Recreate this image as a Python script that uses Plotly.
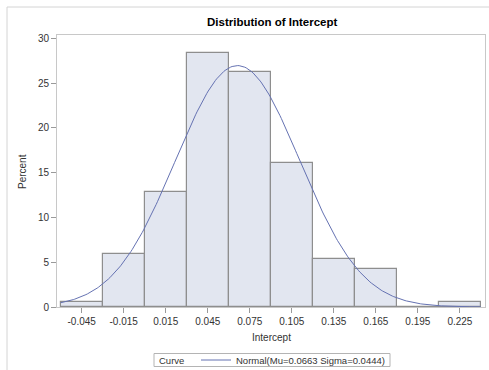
import numpy as np
import plotly.graph_objects as go

# Data
bin_centers = [-0.045, -0.015, 0.015, 0.045, 0.075, 0.105, 0.135, 0.165, 0.195, 0.225]
percent = [0.53, 5.88, 12.83, 28.34, 26.20, 16.04, 5.35, 4.28, 0.0, 0.53]
bin_width = 0.03
MU = 0.0663
SIGMA = 0.0444
x_ticks = [-0.045, -0.015, 0.015, 0.045, 0.075, 0.105, 0.135, 0.165, 0.195, 0.225]
x_tick_labels = ["-0.045", "-0.015", "0.015", "0.045", "0.075", "0.105", "0.135", "0.165", "0.195", "0.225"]
y_ticks = [0, 5, 10, 15, 20, 25, 30]

# Fitted normal curve scaled to percent per bin
xc = np.linspace(-0.06, 0.24, 300)
yc = 100 * bin_width * np.exp(-0.5 * ((xc - MU) / SIGMA) ** 2) / (SIGMA * np.sqrt(2 * np.pi))

FONT = "Liberation Sans, Arial, sans-serif"

fig = go.Figure()
fig.add_trace(go.Bar(
    x=bin_centers, y=percent, width=bin_width,
    marker=dict(color="#E2E6F0", line=dict(color="#8E8E8E", width=1.2)),
    showlegend=False,
))
fig.add_trace(go.Scatter(
    x=xc, y=yc, mode="lines",
    line=dict(color="#6572B2", width=1),
    name="Normal(Mu=0.0663 Sigma=0.0444)",
))

L, R, T, B = 57, 4, 35, 63
W, H = 489, 370
pw, ph = W - L - R, H - T - B

def px_x(px):
    return (px - L) / pw

def px_y(py):
    return (H - B - py) / ph

fig.update_layout(
    width=W, height=H,
    margin=dict(l=L, r=R, t=T, b=B, autoexpand=False),
    paper_bgcolor="white", plot_bgcolor="white",
    font=dict(family=FONT, size=10, color="#333333"),
    bargap=0,
    xaxis=dict(
        range=[-0.0626, 0.2429], tickvals=x_ticks, ticktext=x_tick_labels,
        showgrid=False, zeroline=False, showline=True, mirror=True,
        linecolor="#C8C8C8", linewidth=1,
        ticks="outside", ticklen=5, tickcolor="#9A9A9A",
        tickfont=dict(size=10, color="#333333"),
    ),
    yaxis=dict(
        range=[0, 30.37], tickvals=y_ticks,
        showgrid=False, zeroline=False, showline=True, mirror=True,
        linecolor="#C8C8C8", linewidth=1,
        ticks="outside", ticklen=5, tickcolor="#9A9A9A",
        tickfont=dict(size=10, color="#333333"),
    ),
    showlegend=True,
    legend=dict(
        orientation="h", x=px_x(196), xanchor="left", y=px_y(360), yanchor="middle",
        borderwidth=0, bgcolor="rgba(0,0,0,0)",
        font=dict(size=9.5, color="#333333"),
        itemwidth=30, tracegroupgap=0,
    ),
    annotations=[
        dict(text="<b>Distribution of Intercept</b>", xref="paper", yref="paper",
             x=px_x(272), y=px_y(22), xanchor="center", yanchor="middle",
             showarrow=False, font=dict(size=11.5, color="#000000")),
        dict(text="Percent", xref="paper", yref="paper", textangle=-90,
             x=px_x(22), y=px_y(172), xanchor="center", yanchor="middle",
             showarrow=False, font=dict(size=10, color="#333333")),
        dict(text="Intercept", xref="paper", yref="paper",
             x=px_x(271), y=px_y(337), xanchor="center", yanchor="middle",
             showarrow=False, font=dict(size=10, color="#333333")),
        dict(text="Curve", xref="paper", yref="paper",
             x=px_x(157), y=px_y(360), xanchor="left", yanchor="middle",
             showarrow=False, font=dict(size=9.5, color="#333333")),
    ],
    shapes=[
        dict(type="line", xref="paper", yref="paper",
             x0=px_x(7), x1=px_x(7), y0=px_y(7), y1=px_y(371),
             line=dict(color="#D4D4D4", width=1)),
        dict(type="line", xref="paper", yref="paper",
             x0=px_x(7), x1=px_x(490), y0=px_y(7), y1=px_y(7),
             line=dict(color="#D4D4D4", width=1)),
        dict(type="rect", xref="paper", yref="paper",
             x0=px_x(154), x1=px_x(390), y0=px_y(353.5), y1=px_y(366.5),
             line=dict(color="#B4B4B4", width=1)),
    ],
)

fig.write_html(
    "out.html",
    config={"displayModeBar": False},
    post_script="document.body.style.margin='0';document.body.style.overflow='hidden';",
)
